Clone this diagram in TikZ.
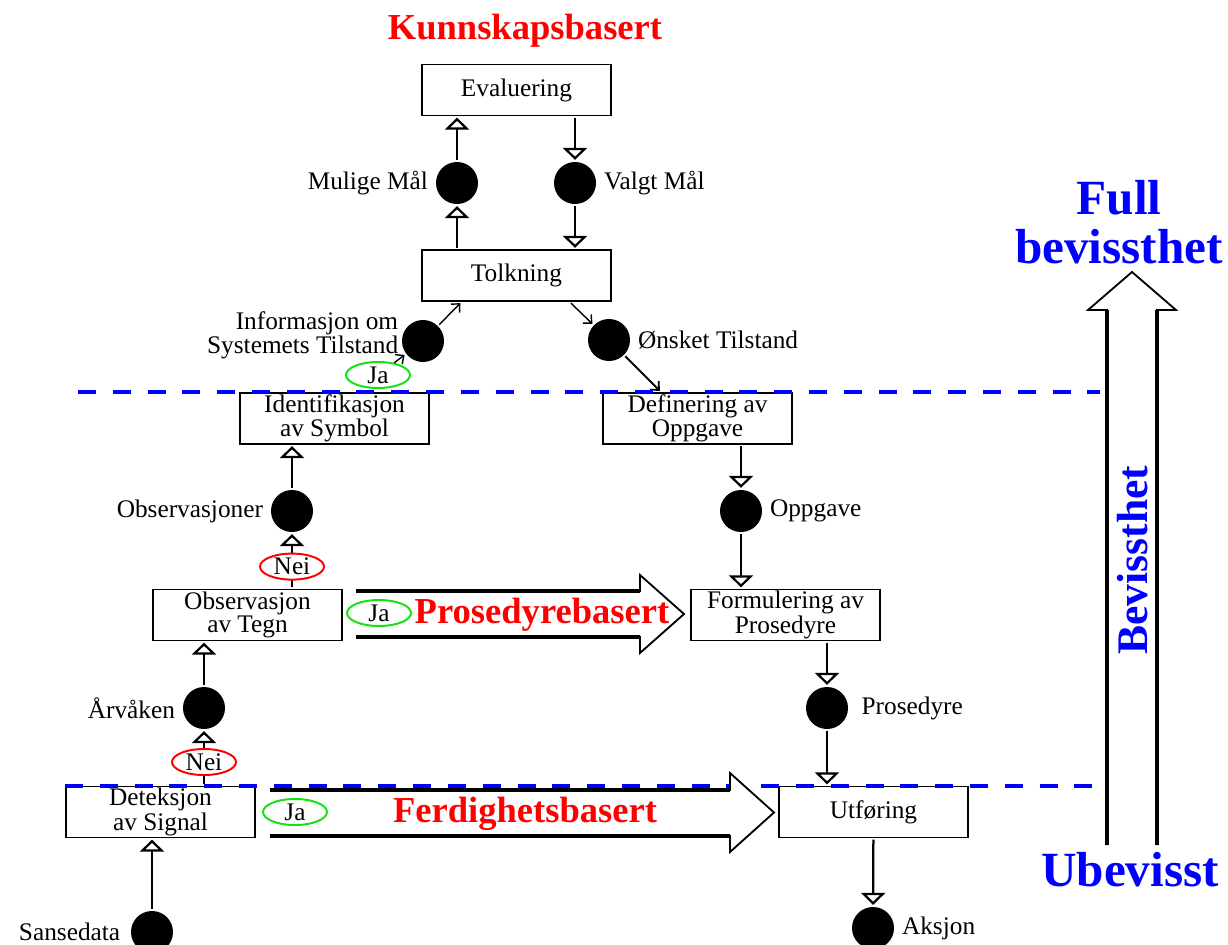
\documentclass[tikz,border=0pt]{standalone}
\usepackage{fontspec}
\setmainfont{Liberation Serif}
\usepackage{xcolor}
\usetikzlibrary{positioning, shapes.geometric, arrows.meta}
\definecolor{jagreen}{RGB}{20,225,20}

\begin{document}
\begin{tikzpicture}[
        x=0.025cm, y=-0.025cm,
        every node/.style={font=\fontsize{18}{15.5}\selectfont},
        box/.style={rectangle, draw, line width=0.9pt, fill=white, minimum width=4.725cm, minimum height=1.275cm, align=center, inner sep=0pt, outer sep=1.5pt},
        dot/.style={circle, fill=black, minimum size=1.05cm, inner sep=0pt, outer sep=1.5pt},
        lbl/.style={inner sep=4pt, align=right},
        flow/.style={line width=1.6pt, -{Triangle[open, length=0.3cm, width=0.6cm]}},
        thinflow/.style={line width=1pt, -{Straight Barb[length=0.16cm, width=0.3cm]}},
        ja/.style={ellipse, draw=jagreen, line width=1.4pt, fill=white, minimum width=1.6cm, minimum height=0.65cm, inner sep=0pt},
        nei/.style={ja, draw=red},
        level/.style={draw=blue, line width=2.2pt, dash pattern=on 0.45cm off 0.42cm},
        mode/.style={font=\fontsize{26}{26}\selectfont\bfseries, text=red},
        aware/.style={font=\fontsize{35}{35}\selectfont\bfseries, text=blue, align=center},
        bigarrow/.style={draw, fill=white, line width=1.3pt, line join=miter},
        shaft/.style={line width=2.2pt},
    ]
        \useasboundingbox (0,0) rectangle (1228,945);

        % Boxes
        \node[box] (eval) at (516.5,90) {Evaluering};
        \node[box] (tolk) at (516.5,275.5) {Tolkning};
        \node[box] (ident) at (334.5,418.5) {Identifikasjon\\av Symbol};
        \node[box] (def) at (697.5,418.5) {Definering av\\Oppgave};
        \node[box] (obstegn) at (247.5,615) {Observasjon\\av Tegn};
        \node[box] (form) at (785.5,615) {Formulering av\\Prosedyre};
        \node[box] (detek) at (160.5,812) {Deteksjon\\av Signal};
        \node[box] (utf) at (873.5,812) {Utføring};

        % States
        \node[dot] (mulige) at (457,183) {};
        \node[dot] (valgt) at (575,183) {};
        \node[dot] (info) at (423,341) {};
        \node[dot] (onsket) at (609,340) {};
        \node[dot] (obs) at (292,511) {};
        \node[dot] (oppg) at (741,511) {};
        \node[dot] (arv) at (204,708) {};
        \node[dot] (prosd) at (827,708) {};
        \node[dot] (sanse) at (152,932) {};
        \node[dot] (aksjon) at (873,928) {};

        % State labels
        \node[lbl, left=0pt of mulige] (mulige-l) {Mulige Mål};
        \node[lbl, right=0pt of valgt] (valgt-l) {Valgt Mål};
        \node[lbl, inner sep=1pt, left=0pt of info, yshift=0.15cm] (info-l) {Informasjon om\\Systemets Tilstand};
        \node[lbl, right=0pt of onsket] (onsket-l) {Ønsket Tilstand};
        \node[lbl, left=0pt of obs] (obs-l) {Observasjoner};
        \node[lbl, right=0pt of oppg] (oppg-l) {Oppgave};
        \node[lbl, left=0pt of arv] (arv-l) {Årvåken};
        \node[lbl, right=4pt of prosd] (prosd-l) {Prosedyre};
        \node[lbl, left=2pt of sanse] (sanse-l) {Sansedata};
        \node[lbl, right=0pt of aksjon] (aksjon-l) {Aksjon};

        % Flow
        \draw[flow] (mulige |- tolk.north) -- (mulige);
        \draw[flow] (mulige) -- (mulige |- eval.south);
        \draw[flow] (valgt |- eval.south) -- (valgt);
        \draw[flow] (valgt) -- (valgt |- tolk.north);
        \draw[thinflow] (info) -- ([xshift=-1.4cm]tolk.south);
        \draw[thinflow] ([xshift=1.36cm]tolk.south) -- (onsket);
        \draw[thinflow, line width=1.3pt] (onsket) -- ([xshift=-0.94cm]def.north);
        \node[ja] (ja-ident) at (378,375) {Ja};
        \draw[thinflow] (ja-ident) -- (info);
        \draw[flow] (obs) -- (obs |- ident.south);
        \draw[flow] (obs |- obstegn.north) -- node[nei, pos=0.39] (nei-obs) {Nei} (obs);
        \draw[flow] (oppg |- def.south) -- (oppg);
        \draw[flow] (oppg) -- (oppg |- form.north);
        \draw[flow] (arv) -- (arv |- obstegn.south);
        \draw[flow] (arv |- detek.north) -- node[nei, pos=0.42] (nei-arv) {Nei} (arv);
        \draw[flow] (prosd |- form.south) -- (prosd);
        \draw[flow] (prosd) -- (prosd |- utf.north);
        \draw[flow] (sanse) -- (sanse |- detek.south);
        \draw[flow] (utf) -- (aksjon);

        % Levels
        \draw[level] (78,392) -- (1100,392);
        \draw[level] (65,786) -- (1105,786);

        % Shortcuts
        \draw[bigarrow] (356,591) -- (640,591) -- (640,575) -- (684,614) -- (640,653) -- (640,637) -- (356,637);
        \draw[shaft] (356,591) -- (640,591) (356,637) -- (640,637);
        \draw[bigarrow] (270,790) -- (730,790) -- (730,773) -- (774,812.5) -- (730,852) -- (730,836) -- (270,836);
        \draw[shaft] (270,790) -- (730,790) (270,836) -- (730,836);
        \node[ja] (ja-tegn) at (379,613) {Ja};
        \node[ja] (ja-signal) at (295,812) {Ja};
        \node[mode] (kb) at (525,31) {Kunnskapsbasert};
        \node[mode] (pb) at (542,615) {Prosedyrebasert};
        \node[mode] (fb) at (525,814) {Ferdighetsbasert};

        % Awareness
        \draw[bigarrow] (1107,845) -- (1107,310) -- (1088,310) -- (1132,272) -- (1176,310) -- (1157,310) -- (1157,845);
        \draw[shaft] (1107,845) -- (1107,310) (1157,310) -- (1157,845);
        \node[aware] (full) at (1119,222) {Full\\bevissthet};
        \node[aware, font=\fontsize{31}{31}\selectfont\bfseries, rotate=90] (bev) at (1133,560) {Bevissthet};
        \node[aware] (ubev) at (1130,870) {Ubevisst};

    \end{tikzpicture}
\end{document}
